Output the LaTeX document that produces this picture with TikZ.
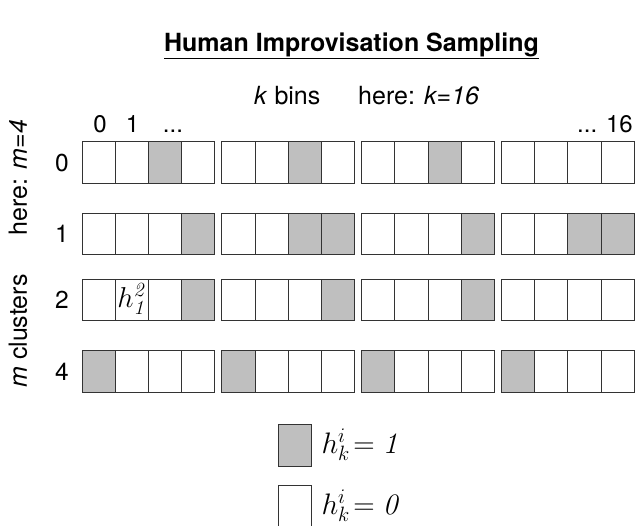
\documentclass[tikz,border=0pt]{standalone}
\usepackage{fix-cm}
\usepackage[no-math]{fontspec}
\setmainfont{TeX Gyre Heros}
\begin{document}
\begin{tikzpicture}[x=1pt,y=-1pt,
  cell/.style={draw=black!80,line width=0.9pt,minimum width=33.2pt,minimum height=41.5pt,inner sep=0pt,outer sep=0pt},
  on/.style={cell,fill=black!25},
  lbl/.style={font=\fontsize{24.5}{28}\selectfont,inner sep=0pt},
  tlbl/.style={font=\fontsize{25}{29}\selectfont,inner sep=0pt},
  clbl/.style={font=\fontsize{24}{28}\selectfont,inner sep=0pt},
  rlbl/.style={font=\fontsize{25}{29}\selectfont,inner sep=0pt,rotate=90},
  mth/.style={inner sep=0pt,font=\fontsize{26}{30}\selectfont}]
\useasboundingbox (0,0) rectangle (636,526);
\node[font=\fontsize{25}{29}\selectfont\bfseries,inner sep=0pt] (title) at (351.5,46) {\underline{Human Improvisation Sampling}};
\node[tlbl,anchor=base west] (kbins) at (254,105) {\textit{k} bins};
\node[tlbl,anchor=base west] (kval) at (358,105) {here: \textit{k=16}};
\node[clbl,anchor=base] (c0) at (100,133) {0};
\node[clbl,anchor=base] (c1) at (132.5,133) {1};
\node[clbl,anchor=base] (cd) at (173,133) {...};
\node[clbl,anchor=base east] (c16) at (633,133) {... 16};
\node[rlbl] (mval) at (18,177.5) {here: \textit{m=4}};
\node[rlbl] (mcl) at (18,331) {\textit{m} clusters};
% rows
\def\rowdata{0/141.7/{2,6,10}/0,1/213.3/{3,6,7,11,14,15}/1,2/279.3/{3,7,11}/2,3/350.7/{0,4,8,12}/4}
\foreach \r/\yt/\ons/\lab in \rowdata {
  \node[lbl] (r\r) at (62,\yt+21) {\lab};
  \foreach \g in {0,1,2,3} {
    \foreach \i in {0,1,2,3} {
      \pgfmathtruncatemacro\k{4*\g+\i}
      \def\st{cell}
      \foreach \o in \ons {\ifnum\o=\k\relax\xdef\st{on}\fi}
      \node[\st,anchor=north west] (b\r-\k) at (82+\g*139.8+\i*33.2,\yt) {};
      \gdef\st{cell}
    }
  }
}
\node[inner sep=0pt,font=\fontsize{23}{27}\selectfont] (h12) at ([xshift=0.5pt,yshift=1pt]b2-1) {\scalebox{1.25}{$h^{\mathit{2}}_{\mathit{1}}$}};
% legend
\node[on,minimum height=42pt] (l1) at (294.7,445) {};
\node[cell,minimum height=42pt] (l0) at (294.7,506) {};
\node[mth,anchor=west] (t1) at ([xshift=10pt]l1.east) {\scalebox{1.14}{$h^i_k\!=\mathit{1}$}};
\node[mth,anchor=west] (t0) at ([xshift=10pt]l0.east) {\scalebox{1.14}{$h^i_k\!=\mathit{0}$}};
\end{tikzpicture}
\end{document}
